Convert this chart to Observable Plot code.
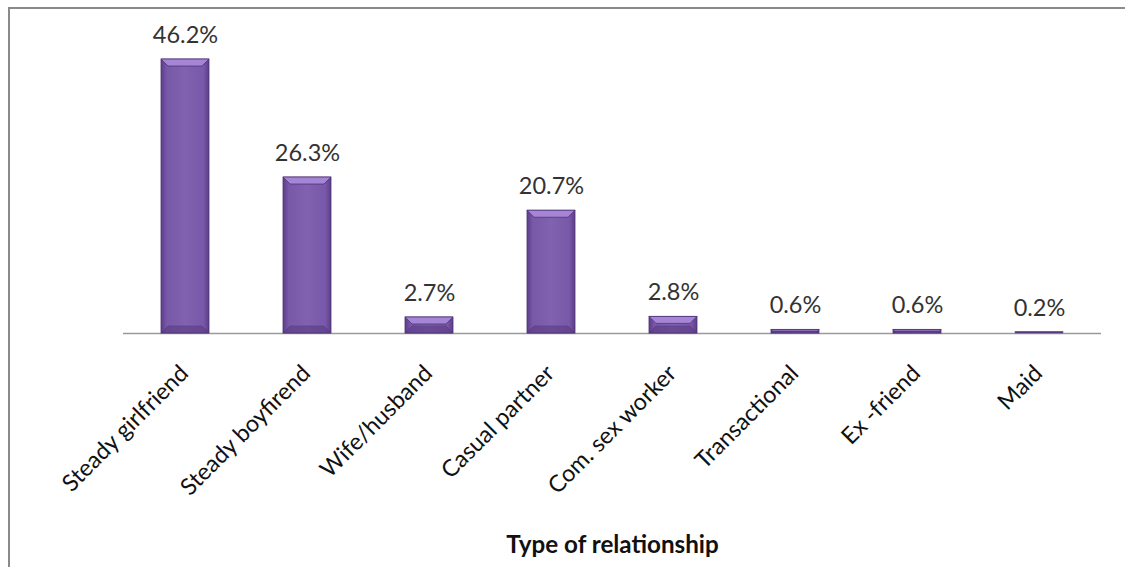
<!DOCTYPE html>
<html><head><meta charset="utf-8">
<script src="https://cdn.jsdelivr.net/npm/d3@7"></script>
<script src="https://cdn.jsdelivr.net/npm/@observablehq/plot@0.6"></script>
<style>
html,body{margin:0;padding:0;background:#fff;}
#wrap{position:relative;width:1125px;height:567px;overflow:hidden;}
#frame{position:absolute;left:8px;top:7px;right:-6px;bottom:-6px;border-top:2px solid #8a8a8a;border-left:2px solid #8a8a8a;}
#chart{position:absolute;left:0;top:0;}
</style></head><body>
<div id="wrap"><div id="frame"></div><div id="chart"></div></div>
<script>
const categories = ["Steady girlfriend","Steady boyfirend","Wife/husband","Casual partner","Com. sex worker","Transactional","Ex -friend","Maid"];
const values = [46.2, 26.3, 2.7, 20.7, 2.8, 0.6, 0.6, 0.2];
const axisTitle = "Type of relationship";

const data = categories.map((c, i) => ({category: c, value: values[i], label: values[i].toFixed(1) + "%"}));
const font = "Lato, 'Open Sans', sans-serif";

const chart = Plot.plot({
  width: 1125, height: 567,
  marginLeft: 123, marginRight: 24, marginTop: 36.5, marginBottom: 234,
  style: {fontFamily: font, background: "transparent", overflow: "visible"},
  x: {domain: categories, paddingInner: 0.607, paddingOuter: 0.303, axis: null},
  y: {domain: [0, 50], axis: null},
  marks: [
    Plot.ruleY([0], {stroke: "#9a9a9a", strokeWidth: 1.5}),
    Plot.barY(data, {x: "category", y: "value", fill: "url(#barGrad)", stroke: "#4e3275", strokeWidth: 0.8}),
    Plot.text(data, {x: "category", y: "value", text: "label", dy: -24, fontSize: 23.5, fill: "#333"}),
    Plot.text(data, {x: "category", y: 0, text: "category", rotate: -45, textAnchor: "end", dx: -1, dy: 36, fontSize: 23.3, fill: "#111"}),
    Plot.text([axisTitle], {frameAnchor: "bottom", dy: 219, fontSize: 24.2, fontWeight: "bold", fill: "#111"})
  ]
});

const svg = d3.select(chart);
svg.insert("defs", ":first-child").html(`
  <linearGradient id="barGrad" x1="0" x2="1" y1="0" y2="0">
    <stop offset="0" stop-color="#5d3e88"/>
    <stop offset="0.12" stop-color="#7858a8"/>
    <stop offset="0.5" stop-color="#8062b0"/>
    <stop offset="0.88" stop-color="#7858a8"/>
    <stop offset="1" stop-color="#5d3e88"/>
  </linearGradient>`);
svg.selectAll('g[aria-label="bar"] rect').each(function() {
  const r = d3.select(this);
  const x = +r.attr("x"), y = +r.attr("y"), w = +r.attr("width"), h = +r.attr("height");
  const d = Math.min(7, h / 2);
  const g = d3.select(this.parentNode);
  if (h < 3) r.attr("stroke", "#9e88c4").attr("fill", "#b6a3d8");
  g.append("polygon")
    .attr("points", `${x},${y} ${x + w},${y} ${x + w - d},${y + d} ${x + d},${y + d}`)
    .attr("fill", "#a586d6");
  g.append("polygon")
    .attr("points", `${x},${y + h} ${x + w},${y + h} ${x + w - d},${y + h - d} ${x + d},${y + h - d}`)
    .attr("fill", "#5a3b84").attr("opacity", 0.6);
});
document.getElementById("chart").appendChild(chart);
</script>
</body></html>
